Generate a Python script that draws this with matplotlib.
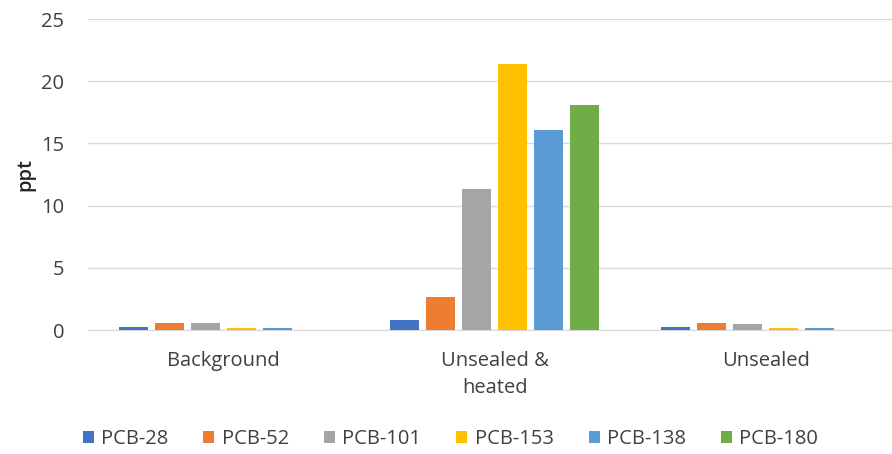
import numpy as np
import matplotlib.pyplot as plt

plt.rcParams['font.family'] = ['Open Sans', 'DejaVu Sans']

categories = ['Background', 'Unsealed &\nheated', 'Unsealed']
series = ['PCB-28', 'PCB-52', 'PCB-101', 'PCB-153', 'PCB-138', 'PCB-180']
pcb28 = [0.27, 0.78, 0.27]
pcb52 = [0.56, 2.65, 0.55]
pcb101 = [0.56, 11.3, 0.45]
pcb153 = [0.15, 21.4, 0.15]
pcb138 = [0.15, 16.1, 0.15]
pcb180 = [0.0, 18.1, 0.0]
values = [pcb28, pcb52, pcb101, pcb153, pcb138, pcb180]
colors = ['#4472C4', '#ED7D31', '#A5A5A5', '#FFC000', '#5B9BD5', '#70AD47']

fig = plt.figure(figsize=(8.92, 4.54), dpi=100)
# axes run a bit past the right edge like the original
ax = fig.add_axes([0.0987, 0.273, 0.9115, 0.685])

x = np.arange(len(categories))
pitch = 0.133
width = 0.107
for i, (name, vals) in enumerate(zip(series, values)):
    ax.bar(x + (i - 2.5) * pitch, vals, width, color=colors[i], label=name, zorder=3)

ax.set_xlim(-0.5, 2.5)
ax.set_ylim(0, 25)
ax.set_yticks([0, 5, 10, 15, 20, 25])
ax.set_xticks(x)
ax.set_xticklabels(categories, linespacing=1.45)
ax.tick_params(axis='both', length=0, labelsize=14.5, colors='#404040')
ax.tick_params(axis='x', pad=15)
ax.tick_params(axis='y', pad=17)
ax.grid(axis='y', color='#D9D9D9', linewidth=1, zorder=0)
for s in ['top', 'right', 'left']:
    ax.spines[s].set_visible(False)
ax.spines['bottom'].set_color('#D9D9D9')
ax.set_ylabel('ppt', fontsize=14.5, color='#262626', fontweight='semibold', labelpad=4)

fig.legend(loc='lower center', ncol=6, frameon=False, fontsize=14.5,
           bbox_to_anchor=(0.505, -0.03), handlelength=0.55, handleheight=0.55,
           columnspacing=1.75, handletextpad=0.35, labelcolor='#404040')

fig.savefig('out.png', dpi=100)
